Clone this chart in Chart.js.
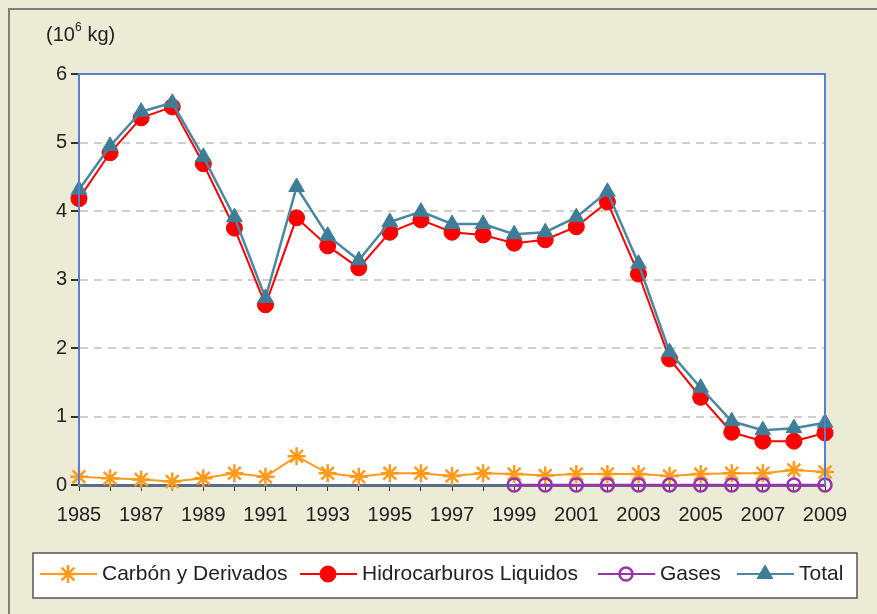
<!DOCTYPE html>
<html>
<head>
<meta charset="utf-8">
<script src="https://cdn.jsdelivr.net/npm/chart.js@4.4.1/dist/chart.umd.min.js"></script>
<style>
  html, body { margin: 0; padding: 0; background: #EBEBD6; }
  #wrap { width: 877px; height: 614px; position: relative; }
</style>
</head>
<body>
<div id="wrap"><canvas id="chart" width="877" height="614"></canvas></div>
<script>
// data
const years = ['1985','1986','1987','1988','1989','1990','1991','1992','1993','1994','1995','1996',
               '1997','1998','1999','2000','2001','2002','2003','2004','2005','2006','2007','2008','2009'];
const carbon = [0.12, 0.10, 0.08, 0.05, 0.10, 0.17, 0.12, 0.42, 0.17, 0.12, 0.17, 0.17,
                0.13, 0.17, 0.16, 0.14, 0.16, 0.16, 0.16, 0.13, 0.16, 0.17, 0.17, 0.22, 0.19];
const hidrocarburos = [4.18, 4.85, 5.36, 5.52, 4.69, 3.75, 2.63, 3.90, 3.49, 3.17, 3.69, 3.87,
                       3.69, 3.65, 3.53, 3.58, 3.77, 4.13, 3.08, 1.84, 1.28, 0.77, 0.64, 0.64, 0.76];
const gases = [null, null, null, null, null, null, null, null, null, null, null, null,
               null, null, 0, 0, 0, 0, 0, 0, 0, 0, 0, 0, 0];
const total = [4.31, 4.95, 5.45, 5.58, 4.79, 3.91, 2.73, 4.35, 3.64, 3.28, 3.84, 3.99,
               3.81, 3.81, 3.66, 3.69, 3.91, 4.28, 3.23, 1.94, 1.42, 0.93, 0.80, 0.83, 0.91];

const FONT = 'Liberation Sans, Arial, sans-serif';
const cOrange = '#FF9A1A';
const cRed = '#FF0000';
const cPurple = '#9933AA';
const cTeal = '#3E7D98';

// frame, plot border, unit label and the boxed legend
const decor = {
    id: 'decor',
    beforeDraw(chart) {
        const ctx = chart.ctx;
        ctx.save();
        ctx.fillStyle = '#EBEBD6';
        ctx.fillRect(0, 0, chart.width, chart.height);
        ctx.strokeStyle = '#7F7F7F';
        ctx.lineWidth = 2;
        ctx.strokeRect(9, 9, chart.width + 20, chart.height + 20);
        const a = chart.chartArea;
        ctx.fillStyle = '#FFFFFF';
        ctx.fillRect(a.left, a.top, a.right - a.left, a.bottom - a.top);
        ctx.restore();
    },
    afterDatasetsDraw(chart) {
        const ctx = chart.ctx;
        const a = chart.chartArea;
        ctx.save();
        ctx.strokeStyle = '#5B7FD0';
        ctx.lineWidth = 2;
        ctx.beginPath();
        ctx.moveTo(a.left, a.bottom);
        ctx.lineTo(a.left, a.top);
        ctx.lineTo(a.right, a.top);
        ctx.lineTo(a.right, a.bottom);
        ctx.stroke();
        ctx.restore();
    },
    afterDraw(chart) {
        const ctx = chart.ctx;
        ctx.save();
        // unit label
        ctx.fillStyle = '#222';
        ctx.textBaseline = 'alphabetic';
        ctx.font = '20px ' + FONT;
        ctx.fillText('(10', 46, 41);
        let w = ctx.measureText('(10').width;
        ctx.font = '12px ' + FONT;
        ctx.fillText('6', 46 + w, 31);
        ctx.font = '20px ' + FONT;
        ctx.fillText(' kg)', 46 + w + 7, 41);

        // legend box
        ctx.fillStyle = '#FFFFFF';
        ctx.fillRect(33, 553, 824, 45);
        ctx.strokeStyle = '#555';
        ctx.lineWidth = 1.5;
        ctx.strokeRect(33, 553, 824, 45);
        const items = [
            { ds: 0, x: 40, text: 'Carbón y Derivados' },
            { ds: 1, x: 300, text: 'Hidrocarburos Liquidos' },
            { ds: 2, x: 598, text: 'Gases' },
            { ds: 3, x: 737, text: 'Total' }
        ];
        const y = 574;
        items.forEach(it => {
            const d = chart.data.datasets[it.ds];
            ctx.strokeStyle = d.borderColor;
            ctx.lineWidth = 2;
            ctx.beginPath();
            ctx.moveTo(it.x, y);
            ctx.lineTo(it.x + 57, y);
            ctx.stroke();
            ctx.fillStyle = d.pointBackgroundColor;
            ctx.strokeStyle = d.pointBorderColor;
            ctx.lineWidth = d.pointBorderWidth;
            Chart.helpers.drawPoint(ctx, {
                pointStyle: d.pointStyle,
                radius: d.pointRadius,
                rotation: 0,
                borderWidth: d.pointBorderWidth
            }, it.x + 28, y);
            ctx.fillStyle = '#222';
            ctx.font = '21px ' + FONT;
            ctx.textBaseline = 'middle';
            ctx.fillText(it.text, it.x + 62, y);
        });
        ctx.restore();
    }
};

new Chart(document.getElementById('chart').getContext('2d'), {
    type: 'line',
    data: {
        labels: years,
        datasets: [
            {
                label: 'Carbón y Derivados',
                data: carbon,
                borderColor: cOrange,
                backgroundColor: cOrange,
                borderWidth: 2,
                pointStyle: 'star',
                pointRadius: 9,
                pointBorderWidth: 2.5,
                pointBorderColor: cOrange,
                pointBackgroundColor: cOrange,
                clip: false,
                order: 3
            },
            {
                label: 'Hidrocarburos Liquidos',
                data: hidrocarburos,
                borderColor: cRed,
                backgroundColor: cRed,
                borderWidth: 2,
                pointStyle: 'circle',
                pointRadius: 8,
                pointBorderWidth: 1,
                pointBorderColor: cRed,
                pointBackgroundColor: cRed,
                clip: false,
                order: 1
            },
            {
                label: 'Gases',
                data: gases,
                borderColor: cPurple,
                backgroundColor: '#FFFFFF',
                borderWidth: 2.5,
                pointStyle: 'circle',
                pointRadius: 6.5,
                pointBorderWidth: 2.5,
                pointBorderColor: cPurple,
                pointBackgroundColor: 'rgba(255,255,255,0)',
                clip: false,
                order: 2
            },
            {
                label: 'Total',
                data: total,
                borderColor: '#4A87A3',
                backgroundColor: cTeal,
                borderWidth: 2.5,
                pointStyle: 'triangle',
                pointRadius: 9,
                pointBorderWidth: 1,
                pointBorderColor: cTeal,
                pointBackgroundColor: cTeal,
                clip: false,
                order: 0
            }
        ]
    },
    options: {
        responsive: false,
        animation: false,
        layout: { padding: { left: 0, top: 74, right: 52, bottom: 89 } },
        plugins: {
            legend: { display: false },
            tooltip: { enabled: false }
        },
        scales: {
            x: {
                offset: false,
                afterFit: s => { s.height = 40; },
                grid: {
                    drawOnChartArea: false,
                    drawTicks: true,
                    tickLength: 6,
                    color: '#333'
                },
                border: { display: true, color: '#5A6C8A', width: 3 },
                ticks: {
                    autoSkip: false,
                    maxRotation: 0,
                    padding: 12,
                    color: '#222',
                    font: { family: FONT, size: 20 },
                    callback: (v, i) => (i % 2 === 0 ? years[i] : '')
                }
            },
            y: {
                min: 0,
                max: 6,
                afterFit: s => { s.width = 79; },
                grid: {
                    color: ctx => (ctx.tick.value === 0 || ctx.tick.value === 6) ? 'rgba(0,0,0,0)' : '#CFCFCF',
                    lineWidth: 2,
                    tickColor: '#333',
                    tickLength: 8,
                    drawTicks: true
                },
                border: { display: true, color: '#5B7FD0', width: 2, dash: [8, 6] },
                ticks: {
                    stepSize: 1,
                    padding: 4,
                    color: '#222',
                    font: { family: FONT, size: 20 }
                }
            }
        }
    },
    plugins: [decor]
});
</script>
</body>
</html>
